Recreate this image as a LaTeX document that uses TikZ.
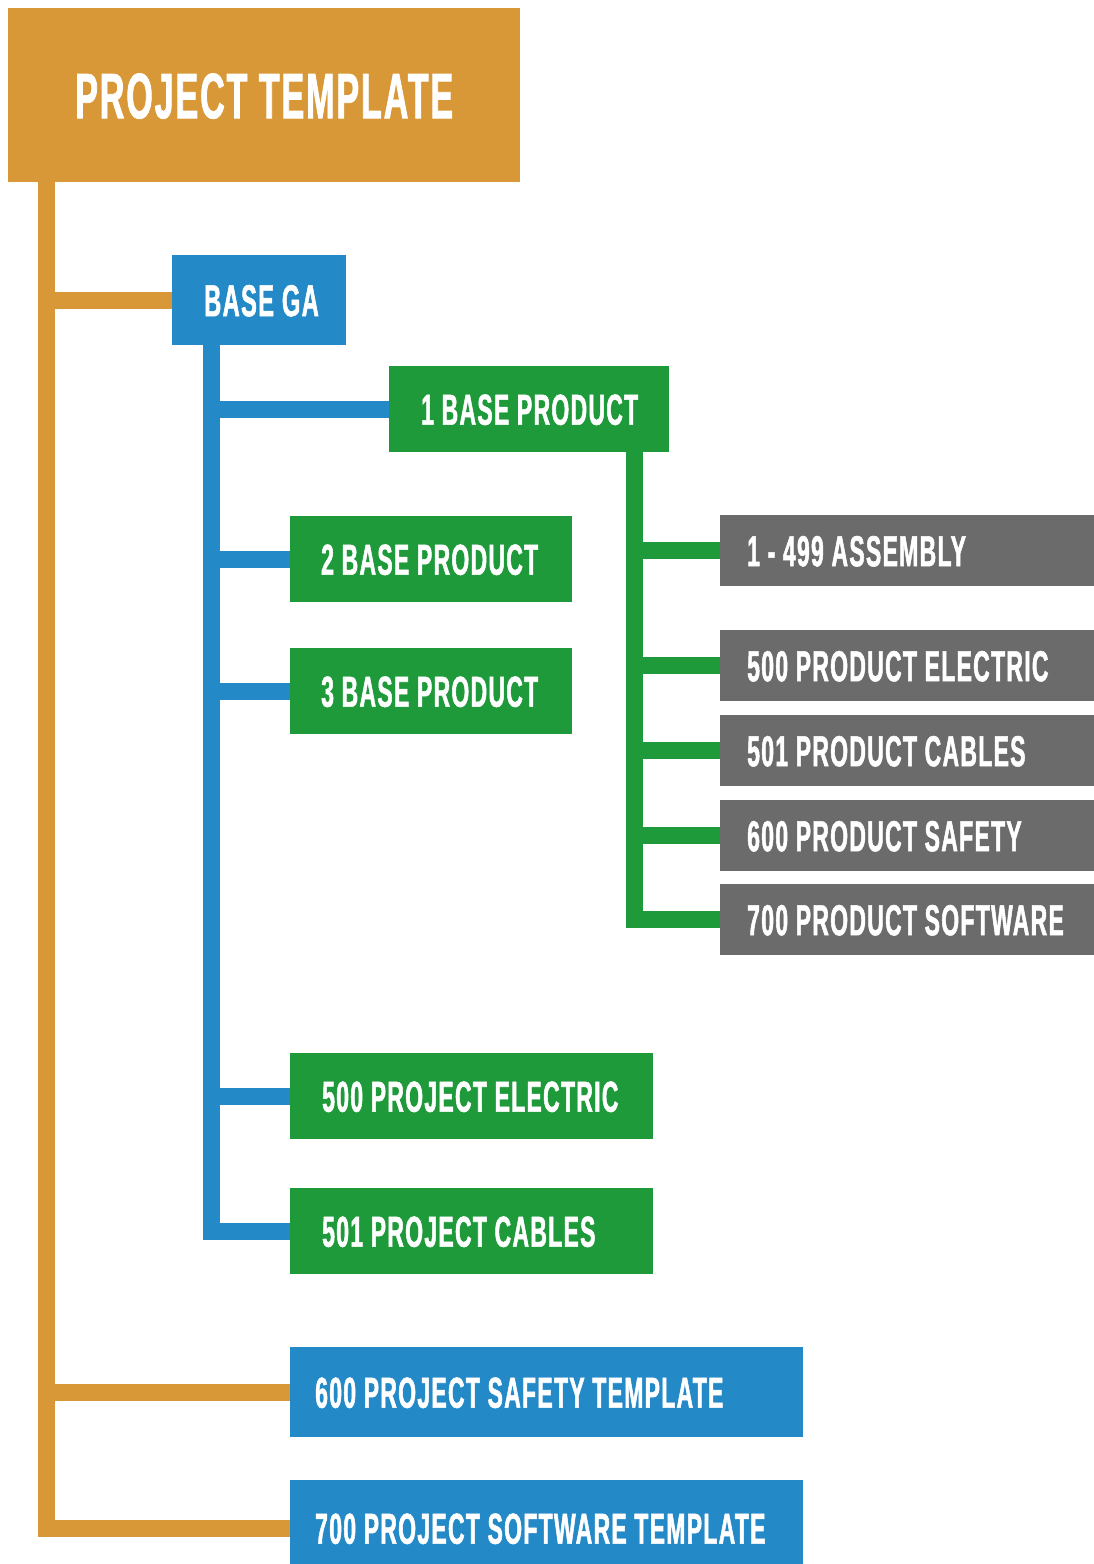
\documentclass[tikz,border=0pt]{standalone}
\usepackage{fontspec}
\usetikzlibrary{backgrounds}
% condensed bold face for all tile labels
\newfontfamily\tagfont{Liberation Sans}[FakeStretch=0.53,FakeBold=1.2,LetterSpace=3]
\definecolor{ochre}{HTML}{D99837}
\definecolor{azure}{HTML}{2389C7}
\definecolor{leaf}{HTML}{1E9A3A}
\definecolor{slate}{HTML}{6B6B6B}
\tikzset{
  tile/.style={rectangle, fill=#1, draw=none, anchor=north west, inner sep=0pt},
  tag/.style={anchor=west, inner sep=0pt, text=white, text depth=0pt},
  capM/.style={font=\tagfont\bfseries\fontsize{43.3}{52}\selectfont, text height=31pt},
  capL/.style={font=\tagfont\bfseries\fontsize{44.7}{54}\selectfont, text height=32pt},
  capXL/.style={font=\tagfont\bfseries\fontsize{64.2}{76}\selectfont, text height=46pt},
  link/.style={draw=#1, line width=17pt, line join=miter, line cap=butt},
}
\begin{document}
\begin{tikzpicture}[x=1pt,y=-1pt]
\useasboundingbox (0,0) rectangle (1093,1564);

% trunk positions
\coordinate (ox) at (46,0);
\coordinate (bx) at (211.5,0);
\coordinate (gx) at (634.5,0);

% root
\node[tile=ochre, minimum width=512pt, minimum height=174pt, text=white, capXL, text depth=0pt] (pt) at (8,8) {PROJECT TEMPLATE};

% second level
\node[tile=azure, minimum width=174pt, minimum height=90pt] (bga) at (172,255) {};
\node[tag, capL] (bgat) at ([xshift=32pt]bga.west) {BASE GA};

\node[tile=azure, minimum width=513pt, minimum height=90pt] (ps) at (290,1347) {};
\node[tag, capM] (pst) at ([xshift=25pt]ps.west) {600 PROJECT SAFETY TEMPLATE};

\node[tile=azure, minimum width=513pt, minimum height=96pt] (sw) at (290,1480) {};
\node[tag, capM] (swt) at ([xshift=25pt]sw.west) {700 PROJECT SOFTWARE TEMPLATE};

% third level
\node[tile=leaf, minimum width=280pt, minimum height=86pt] (bp1) at (389,366) {};
\node[tag, capM] (bp1t) at ([xshift=32pt]bp1.west) {1 BASE PRODUCT};

\node[tile=leaf, minimum width=282pt, minimum height=86pt] (bp2) at (290,516) {};
\node[tag, capM] (bp2t) at ([xshift=31pt]bp2.west) {2 BASE PRODUCT};

\node[tile=leaf, minimum width=282pt, minimum height=86pt] (bp3) at (290,648) {};
\node[tag, capM] (bp3t) at ([xshift=31pt]bp3.west) {3 BASE PRODUCT};

\node[tile=leaf, minimum width=363pt, minimum height=86pt] (pe) at (290,1053) {};
\node[tag, capM] (pet) at ([xshift=32pt]pe.west) {500 PROJECT ELECTRIC};

\node[tile=leaf, minimum width=363pt, minimum height=86pt] (pc) at (290,1188) {};
\node[tag, capM] (pct) at ([xshift=32pt]pc.west) {501 PROJECT CABLES};

% fourth level
\node[tile=slate, minimum width=400pt, minimum height=71pt] (g1) at (720,515) {};
\node[tag, capM] (g1t) at ([xshift=27pt]g1.west) {1 - 499 ASSEMBLY};

\node[tile=slate, minimum width=400pt, minimum height=71pt] (g2) at (720,630) {};
\node[tag, capM] (g2t) at ([xshift=27pt]g2.west) {500 PRODUCT ELECTRIC};

\node[tile=slate, minimum width=400pt, minimum height=71pt] (g3) at (720,715) {};
\node[tag, capM] (g3t) at ([xshift=27pt]g3.west) {501 PRODUCT CABLES};

\node[tile=slate, minimum width=400pt, minimum height=71pt] (g4) at (720,800) {};
\node[tag, capM] (g4t) at ([xshift=27pt]g4.west) {600 PRODUCT SAFETY};

\node[tile=slate, minimum width=400pt, minimum height=71pt] (g5) at (720,884) {};
\node[tag, capM] (g5t) at ([xshift=27pt]g5.west) {700 PRODUCT SOFTWARE};

\begin{scope}[on background layer]
  \fill[white] (0,0) rectangle (1093,1564);
  % root trunk
  \draw[link=ochre] (pt.south -| ox) -- (ox |- sw.west) -- (sw.west);
  \draw[link=ochre] (ox |- bga.west) -- (bga.west);
  \draw[link=ochre] (ox |- ps.west) -- (ps.west);
  % BASE GA trunk
  \draw[link=azure] (bga.south -| bx) -- (bx |- pc.west) -- (pc.west);
  \foreach \n in {bp1,bp2,bp3,pe}
    \draw[link=azure] (bx |- \n.west) -- (\n.west);
  % 1 BASE PRODUCT trunk
  \draw[link=leaf] (bp1.south -| gx) -- (gx |- g5.west) -- (g5.west);
  \foreach \n in {g1,g2,g3,g4}
    \draw[link=leaf] (gx |- \n.west) -- (\n.west);
\end{scope}
\end{tikzpicture}
\end{document}
